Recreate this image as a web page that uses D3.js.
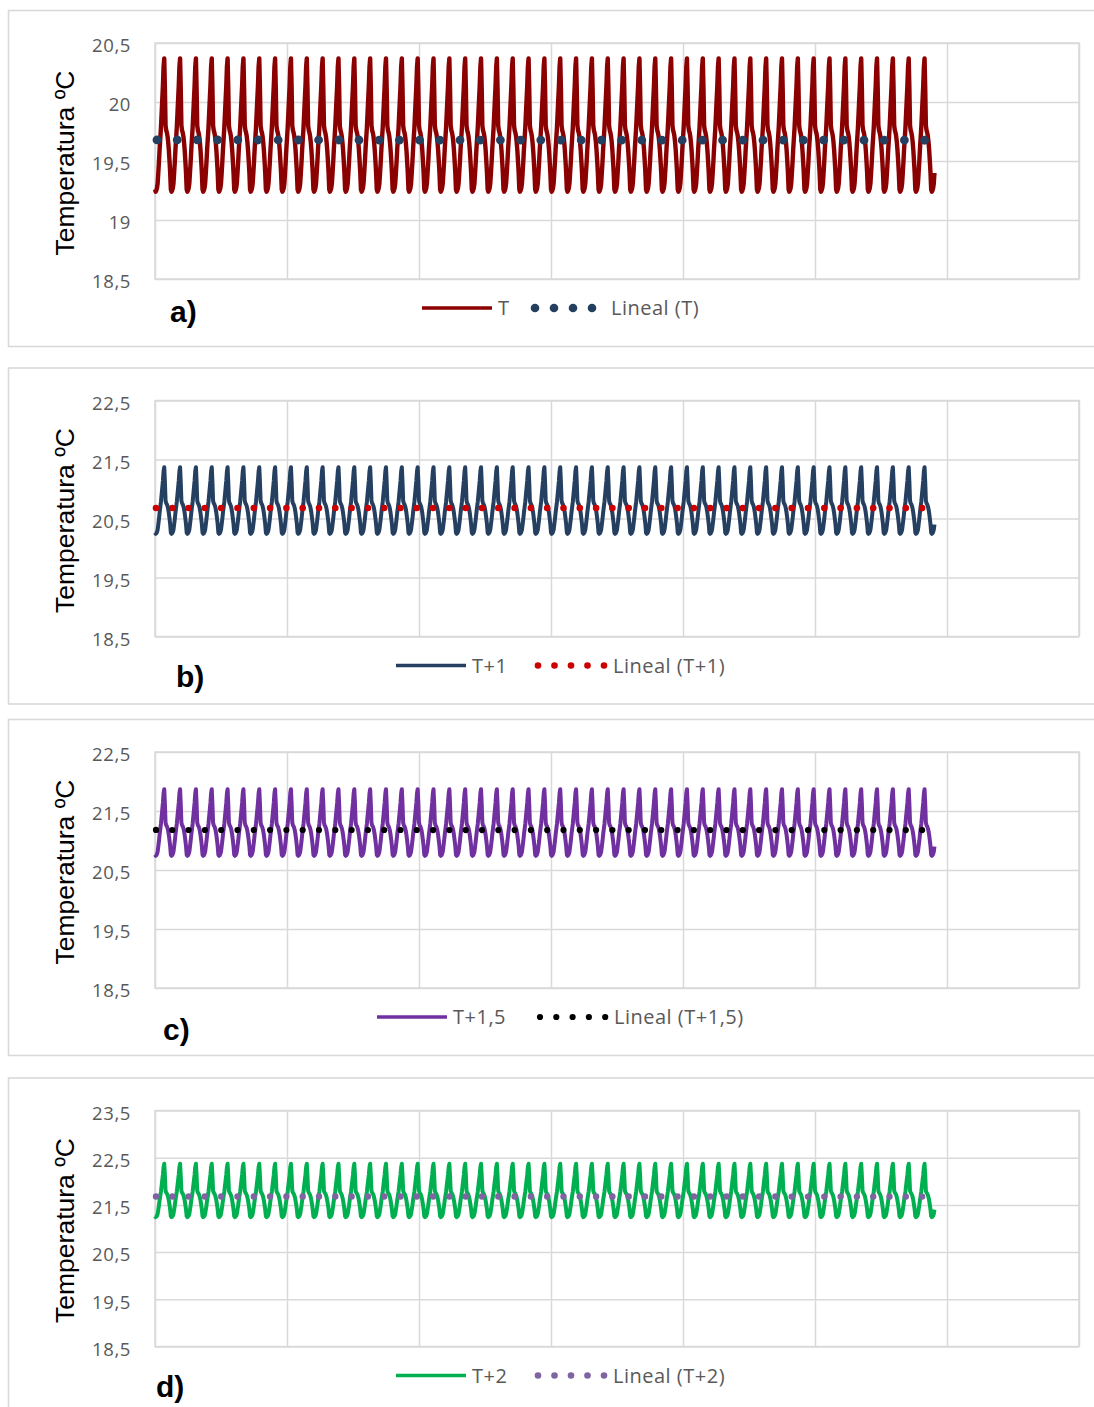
<!DOCTYPE html>
<html>
<head>
<meta charset="utf-8">
<script src="https://cdn.jsdelivr.net/npm/d3@7"></script>
<style>
body { margin: 0; background: #fff; }
</style>
</head>
<body>
<div id="chart"></div>
<script>
// perfil horario de un dia (ºC), caso base T, se repite cada 24 h
var dailyProfile = [19.26, 19.24, 19.25, 19.27, 19.31, 19.40, 19.49, 19.60,
                    19.69, 19.78, 19.90, 20.02, 20.14, 20.30, 20.37, 20.12,
                    19.80, 19.76, 19.74, 19.71, 19.66, 19.59, 19.50, 19.40];
var nDays = 49, extraHours = 6;          // 49 dias + 6 h de la serie
var offsets = [0, 1, 1.5, 2];            // T, T+1, T+1,5, T+2
var seriesNames = ["T", "T+1", "T+1,5", "T+2"];
var trendNames = ["Lineal (T)", "Lineal (T+1)", "Lineal (T+1,5)", "Lineal (T+2)"];
var panelLetters = ["a)", "b)", "c)", "d)"];
var yTicks = [
  [18.5, 19, 19.5, 20, 20.5],
  [18.5, 19.5, 20.5, 21.5, 22.5],
  [18.5, 19.5, 20.5, 21.5, 22.5],
  [18.5, 19.5, 20.5, 21.5, 22.5, 23.5]
];
var xTicks = [0, 200, 400, 600, 800, 1000, 1200, 1400];

// layout
var width = 1094, height = 1407;
var plotLeft = 155, plotRight = 1079, plotOffset = 32.5, plotH = 236;
var panelTop = [10.5, 368, 719.5, 1078];
var boxHeight = 336;
var lineColors = ["#8b0000", "#243f60", "#7030a0", "#00b050"];
var trendColors = ["#243f60", "#cc0000", "#000000", "#8064a2"];
var lineWidth = [4.4, 4, 4, 4];
var trendDot = [{w: 8.8, step: 20.2, off: -2}, {w: 6.6, step: 16.3, off: -1},
                {w: 6.2, step: 16.3, off: -1}, {w: 6.4, step: 16.3, off: -1}];
var legend = [
  {x0: 422, dotX: 535, step: 19, n: 4, r: 4.3, textX: 611},
  {x0: 396, dotX: 538, step: 16.5, n: 5, r: 3.3, textX: 613},
  {x0: 377, dotX: 540, step: 16.3, n: 5, r: 3.1, textX: 614},
  {x0: 396, dotX: 538, step: 16.5, n: 5, r: 3.3, textX: 613}
];
var letterPos = [{x: 170, y: 311}, {x: 176, y: 319}, {x: 163, y: 320}, {x: 156, y: 319}];

var tickFmt = function(d) { return String(d).replace(".", ","); };

var xScale = d3.scaleLinear().domain([0, 1400]).range([plotLeft, plotRight]);

var svg = d3.select("#chart").append("svg")
        .attr("width", width)
        .attr("height", height)
        .style("display", "block");

// serie horaria a partir del perfil diario
var hours = d3.range(nDays * 24 + extraHours);

for (var i = 0; i < 4; i++) draw(i);

function draw(i) {
  var top = panelTop[i];
  var data = hours.map(function(h) {
    return {h: h, t: dailyProfile[h % 24] + offsets[i]};
  });

  // tendencia lineal (minimos cuadrados)
  var mx = d3.mean(data, function(d) { return d.h; }),
      my = d3.mean(data, function(d) { return d.t; });
  var sxy = d3.sum(data, function(d) { return (d.h - mx) * (d.t - my); }),
      sxx = d3.sum(data, function(d) { return (d.h - mx) * (d.h - mx); });
  var slope = sxy / sxx, icpt = my - slope * mx;
  var h0 = data[0].h, h1 = data[data.length - 1].h;
  var trend = [{h: h0, t: icpt + slope * h0}, {h: h1, t: icpt + slope * h1}];

  var ticks = yTicks[i];
  var yScale = d3.scaleLinear()
        .domain([ticks[0], ticks[ticks.length - 1]])
        .range([top + plotOffset + plotH, top + plotOffset]);

  var g = svg.append("g");

  // marco exterior
  g.append("rect")
    .attr("x", 8.5).attr("y", top)
    .attr("width", 1100).attr("height", boxHeight)
    .attr("fill", "#fff")
    .attr("stroke", "#d9d9d9").attr("stroke-width", 1.6);

  // rejilla vertical
  var xAxis = d3.axisBottom(xScale).tickValues(xTicks).tickSize(-plotH).tickFormat("");
  g.append("g")
    .attr("transform", "translate(0," + (top + plotOffset + plotH) + ")")
    .call(xAxis)
    .call(function(s) { s.select(".domain").remove(); })
    .selectAll("line").attr("stroke", "#d9d9d9").attr("stroke-width", 1.5);

  // eje y + rejilla horizontal
  var yAxis = d3.axisLeft(yScale).tickValues(ticks).tickSize(-(plotRight - plotLeft))
        .tickPadding(24).tickFormat(tickFmt);
  var ya = g.append("g")
    .attr("transform", "translate(" + plotLeft + ",0)")
    .call(yAxis);
  ya.select(".domain").remove();
  ya.selectAll("line").attr("stroke", "#d9d9d9").attr("stroke-width", 1.5);
  ya.selectAll("text")
    .attr("dy", "0.47em")
    .attr("fill", "#595959")
    .style("font-family", "'Open Sans', sans-serif")
    .style("font-size", "18.5px")
    .style("letter-spacing", "0.6px");

  g.append("rect")
    .attr("x", plotLeft).attr("y", top + plotOffset)
    .attr("width", plotRight - plotLeft).attr("height", plotH)
    .attr("fill", "none")
    .attr("stroke", "#d9d9d9").attr("stroke-width", 1.5);

  // titulo eje y
  g.append("text")
    .attr("transform", "translate(74," + (top + plotOffset + plotH / 2 + 2) + ") rotate(-90)")
    .attr("text-anchor", "middle")
    .style("font-family", "'Liberation Sans', Arial, sans-serif")
    .style("font-size", "26.5px")
    .attr("fill", "#000")
    .text("Temperatura ºC");

  var line = d3.line()
        .x(function(d) { return xScale(d.h); })
        .y(function(d) { return yScale(d.t); });

  g.append("path")
    .datum(data)
    .attr("d", line)
    .attr("fill", "none")
    .attr("stroke", lineColors[i])
    .attr("stroke-width", lineWidth[i])
    .attr("stroke-linejoin", "round");

  g.append("path")
    .datum(trend)
    .attr("d", line)
    .attr("fill", "none")
    .attr("stroke", trendColors[i])
    .attr("stroke-width", trendDot[i].w)
    .attr("stroke-linecap", "round")
    .attr("stroke-dasharray", "0 " + trendDot[i].step)
    .attr("stroke-dashoffset", trendDot[i].off);

  // leyenda
  var lg = legend[i], ly = top + 297.5;
  g.append("line")
    .attr("x1", lg.x0).attr("x2", lg.x0 + 70)
    .attr("y1", ly).attr("y2", ly)
    .attr("stroke", lineColors[i]).attr("stroke-width", 3.4);
  g.append("text")
    .attr("x", lg.x0 + 76).attr("y", ly).attr("dy", "0.36em")
    .attr("fill", "#595959")
    .style("font-family", "'Open Sans', sans-serif")
    .style("font-size", "20px")
    .style("letter-spacing", "0.5px")
    .text(seriesNames[i]);
  g.selectAll("circle.ld")
    .data(d3.range(lg.n))
    .enter().append("circle")
    .attr("cx", function(k) { return lg.dotX + k * lg.step; })
    .attr("cy", ly)
    .attr("r", lg.r)
    .attr("fill", trendColors[i]);
  g.append("text")
    .attr("x", lg.textX).attr("y", ly).attr("dy", "0.36em")
    .attr("fill", "#595959")
    .style("font-family", "'Open Sans', sans-serif")
    .style("font-size", "20px")
    .style("letter-spacing", "0.5px")
    .text(trendNames[i]);

  g.append("text")
    .attr("x", letterPos[i].x).attr("y", top + letterPos[i].y)
    .style("font-family", "'Liberation Sans', Arial, sans-serif")
    .style("font-size", "30px")
    .style("font-weight", "bold")
    .attr("fill", "#000")
    .text(panelLetters[i]);
}
</script>
</body>
</html>
